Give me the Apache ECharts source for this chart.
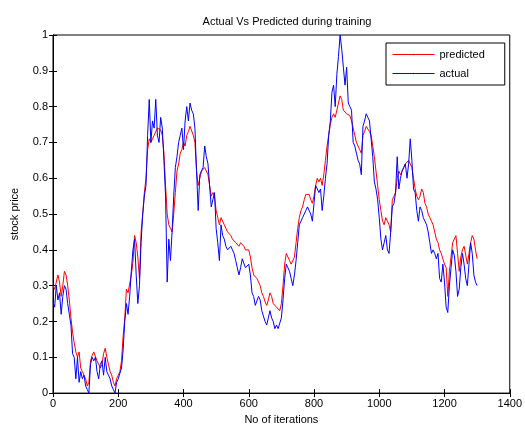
<!DOCTYPE html>
<html>
<head>
<meta charset="utf-8">
<script src="https://cdn.jsdelivr.net/npm/echarts@6/dist/echarts.min.js"></script>
<style>
  html, body { margin: 0; padding: 0; background: #fff; }
  #main { width: 525px; height: 430px; }
</style>
</head>
<body>
<div id="main"></div>
<script>
// sample spacing (iterations) of the values
var step = 5;

var predicted = [
  0.30, 0.29, 0.29, 0.33, 0.31, 0.27, 0.30, 0.34, 0.33, 0.30, 0.26, 0.21, 0.17, 0.14, 0.115, 0.10, 0.115, 0.07, 0.06, 0.05,
  0.04, 0.02, 0.03, 0.09, 0.105, 0.115, 0.11, 0.09, 0.08, 0.07, 0.08, 0.11, 0.125, 0.10, 0.08, 0.06, 0.05, 0.03, 0.02, 0.04,
  0.05, 0.06, 0.09, 0.16, 0.21, 0.29, 0.28, 0.28, 0.33, 0.365, 0.44, 0.42, 0.38, 0.32, 0.45, 0.50, 0.56, 0.60, 0.68, 0.71,
  0.70, 0.71, 0.72, 0.72, 0.74, 0.74, 0.735, 0.72, 0.67, 0.58, 0.50, 0.47, 0.46, 0.45, 0.50, 0.56, 0.62, 0.64, 0.67, 0.68,
  0.70, 0.69, 0.72, 0.73, 0.745, 0.745, 0.72, 0.70, 0.62, 0.58, 0.60, 0.62, 0.62, 0.63, 0.63, 0.61, 0.58, 0.55, 0.56, 0.55,
  0.51, 0.49, 0.47, 0.49, 0.49, 0.47, 0.46, 0.45, 0.45, 0.44, 0.43, 0.43, 0.42, 0.42, 0.41, 0.42, 0.42, 0.41, 0.40, 0.40,
  0.40, 0.38, 0.35, 0.33, 0.33, 0.32, 0.31, 0.30, 0.28, 0.27, 0.255, 0.245, 0.26, 0.28, 0.27, 0.25, 0.245, 0.24, 0.235, 0.23,
  0.25, 0.30, 0.36, 0.39, 0.38, 0.37, 0.36, 0.36, 0.38, 0.42, 0.46, 0.49, 0.51, 0.52, 0.54, 0.555, 0.56, 0.555, 0.54, 0.53,
  0.55, 0.58, 0.60, 0.59, 0.60, 0.58, 0.61, 0.65, 0.69, 0.72, 0.75, 0.77, 0.78, 0.77, 0.79, 0.81, 0.83, 0.82, 0.79, 0.785,
  0.78, 0.78, 0.775, 0.76, 0.74, 0.72, 0.70, 0.69, 0.68, 0.67, 0.72, 0.73, 0.745, 0.74, 0.73, 0.72, 0.69, 0.66, 0.62, 0.58,
  0.54, 0.51, 0.48, 0.47, 0.49, 0.48, 0.47, 0.45, 0.54, 0.55, 0.56, 0.60, 0.62, 0.61, 0.61, 0.63, 0.64, 0.64, 0.65, 0.65,
  0.63, 0.60, 0.57, 0.55, 0.54, 0.55, 0.57, 0.56, 0.53, 0.52, 0.50, 0.49, 0.48, 0.47, 0.45, 0.43, 0.42, 0.40, 0.39, 0.375,
  0.36, 0.35, 0.27, 0.34, 0.38, 0.42, 0.43, 0.44, 0.39, 0.34, 0.38, 0.40, 0.41, 0.41, 0.36, 0.39, 0.42, 0.44, 0.43, 0.40,
  0.375
];

var actual = [
  0.255, 0.24, 0.30, 0.26, 0.28, 0.22, 0.27, 0.30, 0.29, 0.25, 0.22, 0.19, 0.11, 0.10, 0.04, 0.10, 0.03, 0.06, 0.04, 0.05,
  0.02, 0.01, 0.00, 0.08, 0.10, 0.09, 0.10, 0.06, 0.04, 0.08, 0.09, 0.05, 0.10, 0.06, 0.05, 0.04, 0.02, 0.01, 0.00, 0.03,
  0.04, 0.04, 0.07, 0.12, 0.20, 0.25, 0.22, 0.27, 0.34, 0.40, 0.43, 0.33, 0.25, 0.30, 0.42, 0.50, 0.55, 0.58, 0.72, 0.82,
  0.70, 0.76, 0.74, 0.82, 0.72, 0.70, 0.77, 0.74, 0.65, 0.55, 0.31, 0.43, 0.37, 0.45, 0.55, 0.63, 0.66, 0.70, 0.72, 0.74,
  0.68, 0.76, 0.80, 0.76, 0.81, 0.79, 0.78, 0.74, 0.62, 0.51, 0.61, 0.62, 0.63, 0.69, 0.66, 0.64, 0.58, 0.52, 0.54, 0.56,
  0.46, 0.42, 0.37, 0.47, 0.44, 0.43, 0.41, 0.40, 0.40, 0.41, 0.40, 0.39, 0.37, 0.35, 0.33, 0.35, 0.375, 0.37, 0.35, 0.35,
  0.36, 0.33, 0.28, 0.27, 0.245, 0.25, 0.27, 0.26, 0.23, 0.23, 0.20, 0.19, 0.21, 0.23, 0.21, 0.20, 0.18, 0.19, 0.18, 0.175,
  0.21, 0.26, 0.32, 0.36, 0.35, 0.34, 0.32, 0.30, 0.33, 0.37, 0.42, 0.47, 0.48, 0.49, 0.50, 0.51, 0.52, 0.52, 0.50, 0.48,
  0.53, 0.58, 0.57, 0.56, 0.57, 0.51, 0.55, 0.60, 0.64, 0.72, 0.76, 0.84, 0.86, 0.80, 0.89, 0.94, 1.00, 0.96, 0.91, 0.86,
  0.91, 0.81, 0.80, 0.79, 0.70, 0.69, 0.67, 0.65, 0.64, 0.61, 0.745, 0.76, 0.78, 0.77, 0.76, 0.71, 0.66, 0.59, 0.57, 0.54,
  0.49, 0.43, 0.40, 0.42, 0.44, 0.40, 0.39, 0.45, 0.52, 0.53, 0.56, 0.66, 0.57, 0.60, 0.62, 0.63, 0.64, 0.60, 0.64, 0.71,
  0.65, 0.57, 0.56, 0.51, 0.48, 0.52, 0.51, 0.49, 0.48, 0.47, 0.45, 0.42, 0.39, 0.40, 0.39, 0.375, 0.39, 0.32, 0.31, 0.36,
  0.31, 0.24, 0.225, 0.30, 0.35, 0.40, 0.385, 0.34, 0.27, 0.29, 0.35, 0.39, 0.36, 0.32, 0.30, 0.36, 0.42, 0.39, 0.33, 0.31,
  0.30
];

function toPairs(arr) {
  var out = [];
  for (var i = 0; i < arr.length; i++) {
    out.push([i * step, arr[i]]);
  }
  return out;
}

var chart = echarts.init(document.getElementById('main'));
var font = 'Liberation Sans, Arial, Helvetica, sans-serif';

var option = {
  backgroundColor: '#fff',
  animation: false,
  textStyle: { fontFamily: font },
  title: {
    text: 'Actual Vs Predicted during training',
    left: 282, top: 11, textAlign: 'center',
    textStyle: { fontSize: 11, fontWeight: 'normal', color: '#000', fontFamily: font }
  },
  legend: {
    orient: 'vertical',
    left: 386, top: 43,
    width: 117,
    padding: [6, 20, 6, 6],
    itemGap: 8,
    itemWidth: 42,
    itemHeight: 2,
    lineStyle: { width: 1 },
    backgroundColor: '#fff',
    borderColor: '#000',
    borderWidth: 1,
    borderRadius: 0,
    textStyle: { fontSize: 11, color: '#000', fontFamily: font },
    data: ['predicted', 'actual']
  },
  grid: {
    left: 53, right: 14, top: 35, bottom: 34,
    show: true, borderColor: '#000', borderWidth: 1
  },
  xAxis: [{
    type: 'value', min: 0, max: 1400, interval: 200,
    name: 'No of iterations', nameLocation: 'middle', nameGap: 18,
    nameTextStyle: { fontSize: 11, color: '#000' },
    axisLine: { lineStyle: { color: '#000' } },
    axisTick: { inside: true, length: 4, lineStyle: { color: '#000' } },
    axisLabel: { fontSize: 11, color: '#000', margin: 5, formatter: function (v) { return String(v); } },
    splitLine: { show: false }
  }, {
    type: 'value', min: 0, max: 1400, interval: 200, position: 'top',
    axisLine: { lineStyle: { color: '#000' } },
    axisTick: { inside: true, length: 4, lineStyle: { color: '#000' } },
    axisLabel: { show: false },
    splitLine: { show: false }
  }],
  yAxis: [{
    type: 'value', min: 0, max: 1, interval: 0.1,
    name: 'stock price', nameLocation: 'middle', nameGap: 33,
    nameTextStyle: { fontSize: 11, color: '#000' },
    axisLine: { show: true, lineStyle: { color: '#000' } },
    axisTick: { show: true, inside: true, length: 4, lineStyle: { color: '#000' } },
    axisLabel: { fontSize: 11, color: '#000', margin: 5 },
    splitLine: { show: false }
  }, {
    type: 'value', min: 0, max: 1, interval: 0.1, position: 'right',
    axisLine: { show: true, lineStyle: { color: '#000' } },
    axisTick: { show: true, inside: true, length: 4, lineStyle: { color: '#000' } },
    axisLabel: { show: false },
    splitLine: { show: false }
  }],
  series: [{
    name: 'predicted',
    type: 'line',
    data: toPairs(predicted),
    symbol: 'none',
    color: '#ff0000',
    lineStyle: { width: 1, color: '#ff0000' }
  }, {
    name: 'actual',
    type: 'line',
    data: toPairs(actual),
    symbol: 'none',
    color: '#0000ff',
    lineStyle: { width: 1, color: '#0000ff' }
  }]
};

chart.setOption(option);
</script>
</body>
</html>
